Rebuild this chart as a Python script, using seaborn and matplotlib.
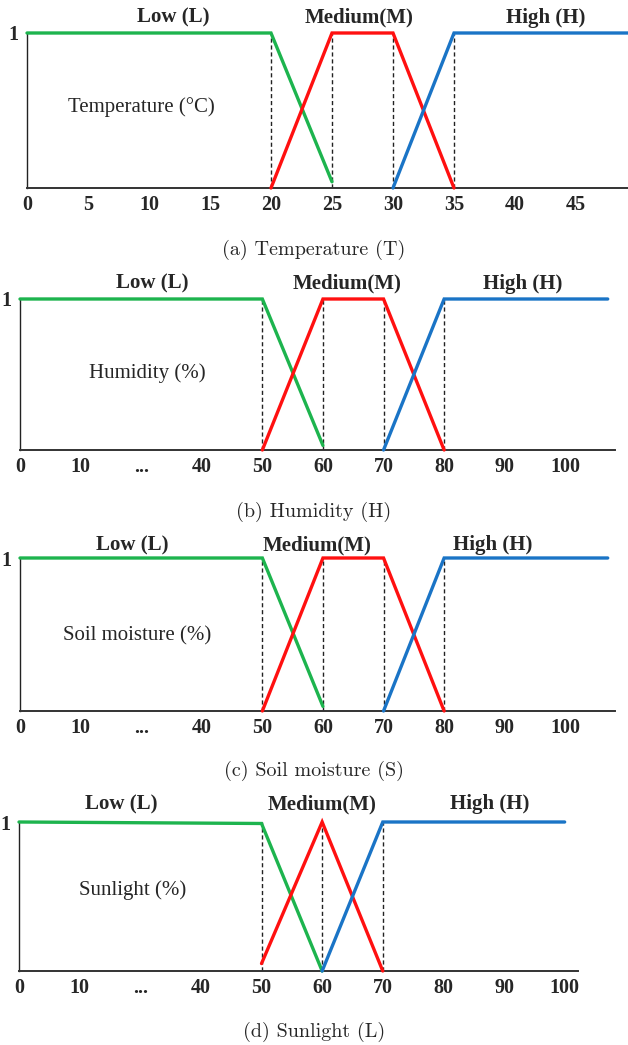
import numpy as np
import pandas as pd
import matplotlib
matplotlib.use("Agg")
import matplotlib.pyplot as plt
import seaborn as sns

sns.set_theme(style="white")
plt.rcParams['font.family'] = ['Liberation Serif', 'DejaVu Serif']

# ---------------- data ----------------
# (a) Temperature
temp_ticks = [0, 5, 10, 15, 20, 25, 30, 35, 40, 45]
temp_low_x = [0, 20, 25]
temp_low_y = [1, 1, 0.04]
temp_med_x = [20, 25, 30, 35]
temp_med_y = [0, 1, 1, 0]
temp_high_x = [30, 35, 49.5]
temp_high_y = [0, 1, 1]
temp_dashed = [20, 25, 30, 35]

# percentage axis (compressed, with "...")
pct_tick_labels = ["0", "10", "...", "40", "50", "60", "70", "80", "90", "100"]

# (b) Humidity
hum_low_x = [0, 50, 60]
hum_low_y = [1, 1, 0.03]
hum_med_x = [50, 60, 70, 80]
hum_med_y = [0, 1, 1, 0]
hum_high_x = [70, 80, 107]
hum_high_y = [0, 1, 1]
hum_dashed = [50, 60, 70, 80]

# (c) Soil moisture
soil_low_x = [0, 50, 60]
soil_low_y = [1, 1, 0.03]
soil_med_x = [50, 60, 70, 80]
soil_med_y = [0, 1, 1, 0]
soil_high_x = [70, 80, 107]
soil_high_y = [0, 1, 1]
soil_dashed = [50, 60, 70, 80]

# (d) Sunlight
sun_low_x = [0, 50, 60]
sun_low_y = [1, 0.99, 0]
sun_med_x = [50, 60, 70]
sun_med_y = [0.05, 1, 0]
sun_high_x = [60, 70, 100]
sun_high_y = [0, 1, 1]
sun_dashed = [50, 60, 70]

set_names = ["Low (L)", "Medium(M)", "High (H)"]
var_labels = ["Temperature (\u00b0C)", "Humidity (%)", "Soil moisture (%)", "Sunlight (%)"]
captions = ["(a) Temperature (T)", "(b) Humidity (H)", "(c) Soil moisture (S)", "(d) Sunlight (L)"]

# ---------------- helpers ----------------
def pct_to_pos(values):
    """map percent values onto the compressed index axis"""
    tv, tp = [], []
    for i, lab in enumerate(pct_tick_labels):
        if lab != "...":
            tv.append(float(lab)); tp.append(float(i))
    out = []
    for v in values:
        if v > tv[-1]:
            out.append(tp[-1] + (v - tv[-1]) / (tv[-1] - tv[-2]) * (tp[-1] - tp[-2]))
        else:
            out.append(float(np.interp(v, tv, tp)))
    return out

GREEN = "#1db44e"
RED = "#ff1010"
BLUE = "#1a74c6"

TICK_FS = 14.5
NAME_FS = 15
VAR_FS = 15
CAP_FS = 14.5

W, H = 628, 1045
fig = plt.figure(figsize=(W / 100, H / 100), dpi=100)

def make_ax(left, right, top, bottom):
    return fig.add_axes([left / W, 1 - bottom / H, (right - left) / W, (bottom - top) / H])

def style_ax(ax, xlim, ticks, ticklabels):
    ax.set_xlim(*xlim)
    ax.set_ylim(0, 1)
    ax.set_xticks(ticks)
    ax.set_xticklabels(ticklabels, fontweight="bold", fontsize=TICK_FS)
    ax.set_yticks([1])
    ax.set_yticklabels(["1"], fontweight="bold", fontsize=TICK_FS)
    ax.tick_params(axis="x", length=0, pad=5)
    ax.tick_params(axis="y", length=0, pad=6)
    ax.set_xlabel("")
    ax.set_ylabel("")
    for s in ["top", "right"]:
        ax.spines[s].set_visible(False)
    ax.spines["bottom"].set_color("#333333")
    ax.spines["bottom"].set_linewidth(1.4)
    ax.spines["left"].set_color("#222222")
    ax.spines["left"].set_linewidth(1.0)
    ax.grid(False)
    if ax.get_legend() is not None:
        ax.get_legend().remove()

def draw_panel(ax, series, dashed):
    for xs, ys, col in series:
        df = pd.DataFrame({"x": xs, "y": ys})
        sns.lineplot(data=df, x="x", y="y", ax=ax, color=col, linewidth=2.4,
                     sort=False, estimator=None, zorder=3)
    for ln in ax.lines:
        ln.set_clip_on(False)
        ln.set_solid_joinstyle("miter")
    ax.vlines(dashed, 0, 1, colors="#222222", linestyles=(0, (3, 2)), linewidth=1.0, zorder=2)

# ---- (a)
ax_a = make_ax(27, 628, 33, 188)
draw_panel(ax_a, [(temp_low_x, temp_low_y, GREEN), (temp_med_x, temp_med_y, RED),
                  (temp_high_x, temp_high_y, BLUE)], temp_dashed)
style_ax(ax_a, (0, 601 / 12.2), temp_ticks, [str(t) for t in temp_ticks])
for x, name in zip([12.0, 27.2, 42.5], set_names):
    ax_a.text(x, 1.097, name, ha="center", va="center", fontweight="bold", fontsize=NAME_FS, clip_on=False)
ax_a.text(9.4, 0.52, var_labels[0], ha="center", va="center", fontsize=VAR_FS)

# ---- (b), (c), (d)
pct_panels = [
    (make_ax(20, 615, 299, 450), 9.82,
     [(hum_low_x, hum_low_y, GREEN), (hum_med_x, hum_med_y, RED), (hum_high_x, hum_high_y, BLUE)],
     hum_dashed, [2.18, 5.4, 8.3], 1.10, (2.1, 0.51), var_labels[1]),
    (make_ax(20, 615, 558, 711), 9.82,
     [(soil_low_x, soil_low_y, GREEN), (soil_med_x, soil_med_y, RED), (soil_high_x, soil_high_y, BLUE)],
     soil_dashed, [1.86, 4.9, 7.8], 1.085, (1.93, 0.49), var_labels[2]),
    (make_ax(19, 578, 822, 971), 9.22,
     [(sun_low_x, sun_low_y, GREEN), (sun_med_x, sun_med_y, RED), (sun_high_x, sun_high_y, BLUE)],
     sun_dashed, [1.68, 5.0, 7.77], 1.12, (1.87, 0.54), var_labels[3]),
]
for ax, xmax, series, dashed, name_x, name_y, (tx, ty), vlab in pct_panels:
    mapped = [(pct_to_pos(xs), ys, c) for xs, ys, c in series]
    draw_panel(ax, mapped, pct_to_pos(dashed))
    style_ax(ax, (0, xmax), list(range(len(pct_tick_labels))), pct_tick_labels)
    for x, name in zip(name_x, set_names):
        ax.text(x, name_y, name, ha="center", va="center", fontweight="bold", fontsize=NAME_FS, clip_on=False)
    ax.text(tx, ty, vlab, ha="center", va="center", fontsize=VAR_FS)

# captions
for y, cap in zip([250, 512, 771, 1032], captions):
    fig.text(314 / W, 1 - y / H, cap, ha="center", va="center", fontsize=CAP_FS,
             family=["cmr10", "DejaVu Serif"])

fig.savefig("out.png", dpi=100)
